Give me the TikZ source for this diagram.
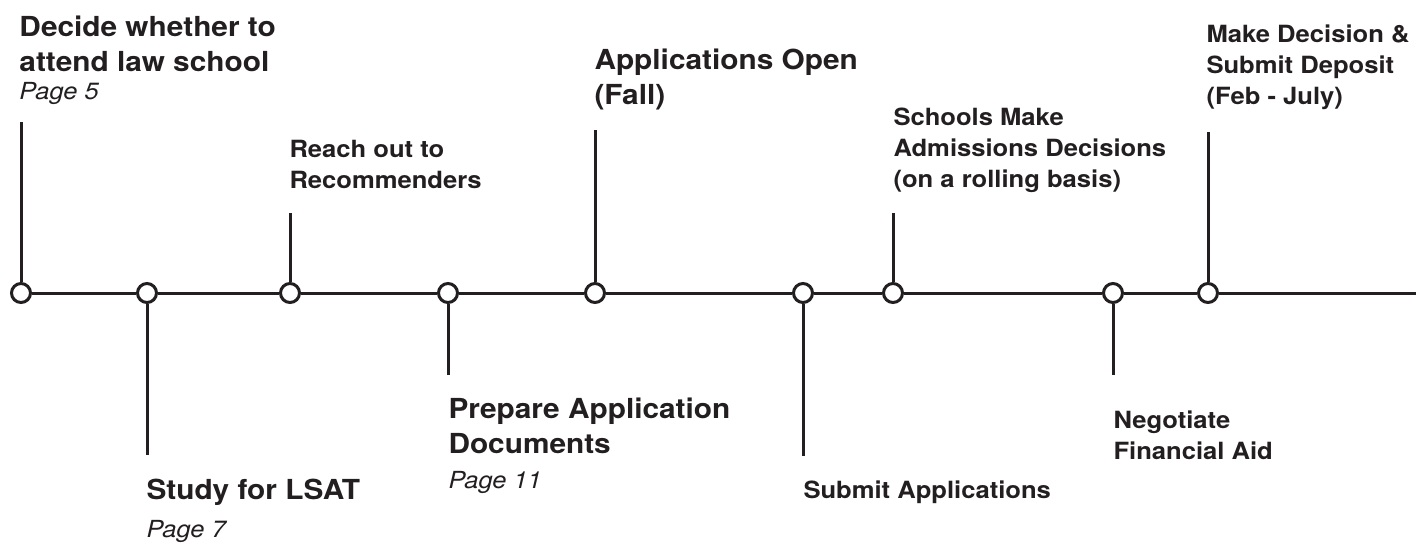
\documentclass[tikz,border=0pt]{standalone}
\usepackage{fontspec}
\setmainfont{TeX Gyre Heros}[FakeStretch=1.08]
\definecolor{ink}{HTML}{231F20}

\begin{document}
\begin{tikzpicture}[x=1pt, y=-1pt, line width=3pt, draw=ink,
  every node/.style = {inner sep=0pt, anchor=base west, align=left, text=ink},
  stop/.style = {circle, draw, fill=white, minimum size=19pt, anchor=center},
  big/.style = {font=\bfseries\fontsize{27.6}{35}\selectfont},
  small/.style = {font=\bfseries\fontsize{23.7}{31}\selectfont},
  page/.style = {font=\itshape\fontsize{23.5}{26}\selectfont}
  ]
  \useasboundingbox (0,0) rectangle (1420,542);
  % stops on the time line
  \node[stop] (decide)  at (21,293)   {};
  \node[stop] (lsat)    at (147,293)  {};
  \node[stop] (recs)    at (290,293)  {};
  \node[stop] (docs)    at (448,293)  {};
  \node[stop] (open)    at (595,293)  {};
  \node[stop] (submit)  at (803,293)  {};
  \node[stop] (admit)   at (893,293)  {};
  \node[stop] (aid)     at (1113,293) {};
  \node[stop] (deposit) at (1208,293) {};
  \coordinate (end) at (1416,293);
  \draw (decide) -- (lsat) -- (recs) -- (docs) -- (open) -- (submit)
    -- (admit) -- (aid) -- (deposit) -- (end);
  % stems
  \coordinate (decide top)  at (21,122);
  \coordinate (recs top)    at (290,213);
  \coordinate (open top)    at (595,130);
  \coordinate (admit top)   at (893,213);
  \coordinate (deposit top) at (1208,132);
  \coordinate (lsat bot)    at (147,455);
  \coordinate (docs bot)    at (448,375);
  \coordinate (submit bot)  at (803,456);
  \coordinate (aid bot)     at (1113,375);
  \draw (decide) -- (decide top);
  \draw (recs) -- (recs top);
  \draw (open) -- (open top);
  \draw (admit) -- (admit top);
  \draw (deposit) -- (deposit top);
  \draw (lsat) -- (lsat bot);
  \draw (docs) -- (docs bot);
  \draw (submit) -- (submit bot);
  \draw (aid) -- (aid bot);
  % labels above the line (anchored at the last baseline)
  \node[big] (decide label) at (18,71) {Decide whether to\\attend law school};
  \node[page] (decide page) at (18,99) {Page 5};
  \node[small] (recs label) at (288,188) {Reach out to\\Recommenders};
  \node[big] (open label) at (593,104) {Applications Open\\(Fall)};
  \node[small] (admit label) at (892,187)
    {Schools Make\\Admissions Decisions\\(on a rolling basis)};
  \node[small] (deposit label) at (1205,104)
    {Make Decision \&\\Submit Deposit\\(Feb - July)};
  % labels below the line
  \node[big] (lsat label) at (145,499) {Study for LSAT};
  \node[page] (lsat page) at (145,537) {Page 7};
  \node[big] (docs label) at (447,453) {Prepare Application\\Documents};
  \node[page] (docs page) at (447,488) {Page 11};
  \node[small] (submit label) at (802,498) {Submit Applications};
  \node[small] (aid label) at (1112,459) {Negotiate\\Financial Aid};
\end{tikzpicture}
\end{document}
